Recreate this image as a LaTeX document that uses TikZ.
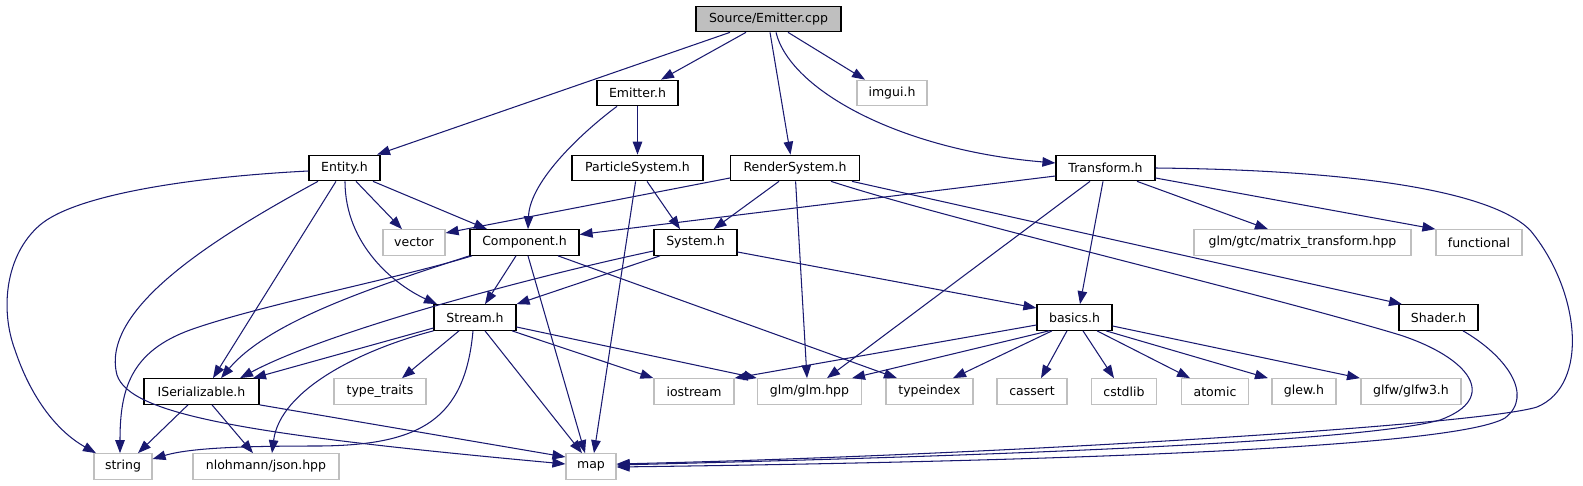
\documentclass[tikz,border=0pt]{standalone}
\usepackage{fontspec}
\setmainfont{DejaVu Sans}
\usetikzlibrary{arrows.meta}
\definecolor{edgeblue}{HTML}{191970}
\definecolor{greyseventyfive}{HTML}{BFBFBF}
\begin{document}
\begin{tikzpicture}[x=1pt,y=-1pt,
  box/.style={draw=black, line width=1.2pt, fill=white, minimum height=25.5pt, inner sep=0pt, font=\fontsize{12.5}{14}\selectfont},
  ext/.style={box, draw=greyseventyfive},
  srcbox/.style={box, fill=greyseventyfive},
  dep/.style={draw=edgeblue, line width=1.05pt, -{Triangle[length=13pt,width=9.5pt]}, fill=none},
]
\useasboundingbox (0,0) rectangle (1583,485);
% nodes
\node[srcbox, minimum width=145pt] (src) at (768.5,19) {Source/Emitter.cpp};
\node[box, minimum width=81pt] (emitterh) at (637.5,93) {Emitter.h};
\node[ext, minimum width=70pt] (imgui) at (892,93) {imgui.h};
\node[box, minimum width=71pt] (entity) at (344.5,168) {Entity.h};
\node[box, minimum width=131pt] (particle) at (637.5,168) {ParticleSystem.h};
\node[box, minimum width=129pt] (render) at (795,168) {RenderSystem.h};
\node[box, minimum width=99pt] (transform) at (1105.5,168) {Transform.h};
\node[ext, minimum width=62pt] (vector) at (414,242.5) {vector};
\node[box, minimum width=109pt] (component) at (524.5,242.5) {Component.h};
\node[box, minimum width=83pt] (system) at (695.5,242.5) {System.h};
\node[ext, minimum width=217pt] (gtc) at (1302.5,242.5) {glm/gtc/matrix\_transform.hpp};
\node[ext, minimum width=86pt] (functional) at (1479,242.5) {functional};
\node[box, minimum width=82pt] (stream) at (475,317.5) {Stream.h};
\node[box, minimum width=75pt] (basics) at (1074.5,317.5) {basics.h};
\node[box, minimum width=79pt] (shader) at (1438.5,317.5) {Shader.h};
\node[box, minimum width=115pt] (iserial) at (201.5,391.5) {ISerializable.h};
\node[ext, minimum width=92pt] (typetraits) at (380,391.5) {type\_traits};
\node[ext, minimum width=80pt] (iostream) at (694,391.5) {iostream};
\node[ext, minimum width=104pt] (glm) at (809.5,391.5) {glm/glm.hpp};
\node[ext, minimum width=87pt] (typeindex) at (929.5,391.5) {typeindex};
\node[ext, minimum width=70pt] (cassert) at (1032,391.5) {cassert};
\node[ext, minimum width=65pt] (cstdlib) at (1124,391.5) {cstdlib};
\node[ext, minimum width=67pt] (atomic) at (1215,391.5) {atomic};
\node[ext, minimum width=64pt] (glew) at (1304,391.5) {glew.h};
\node[ext, minimum width=100pt] (glfw) at (1411,391.5) {glfw/glfw3.h};
\node[ext, minimum width=58pt] (string) at (123,466.5) {string};
\node[ext, minimum width=146pt] (json) at (266,466.5) {nlohmann/json.hpp};
\node[ext, minimum width=50pt] (map) at (591,466.5) {map};
% edges from Source/Emitter.cpp
\draw[dep] (src.south -| 730,0) -- (entity.north -| 377,0);
\draw[dep] (src.south -| 746,0) -- (emitterh.north -| 661,0);
\draw[dep] (src.south -| 770,0) -- (render.north -| 790.5,0);
\draw[dep] (src.south -| 788,0) -- (imgui.north -| 865,0);
\draw[dep] (src.south -| 776,0) .. controls (790,90) and (900,150) .. (transform.west |- 0,163);
% Emitter.h
\draw[dep] (emitterh.south -| 617,0) .. controls (585,130) and (530,180) .. (component.north -| 528,0);
\draw[dep] (emitterh) -- (particle);
% Entity.h
\draw[dep] (entity.west |- 0,171) .. controls (190,177) and (75,195) .. (40,225) .. controls (5,255) and (0,310) .. (15,350) .. controls (30,395) and (55,430) .. (string.north -| 96,0);
\draw[dep] (entity.south -| 318,0) .. controls (210,240) and (100,310) .. (117,375) .. controls (130,415) and (250,435) .. (map.west |- 0,464);
\draw[dep] (entity.south -| 356,0) -- (vector.north -| 402,0);
\draw[dep] (entity.south -| 373,0) -- (component.north -| 487,0);
\draw[dep] (entity.south -| 336,0) -- (iserial.north -| 213,0);
\draw[dep] (entity.south -| 345,0) .. controls (345,245) and (395,285) .. (stream.north -| 437,0);
% ParticleSystem.h
\draw[dep] (particle.south -| 647,0) -- (system.north -| 680,0);
\draw[dep] (particle.south -| 635.6,0) -- (map.north -| 594,0);
% RenderSystem.h
\draw[dep] (render.west |- 0,178) -- (vector.east |- 0,233);
\draw[dep] (render.south -| 779,0) -- (system.north -| 713.5,0);
\draw[dep] (render.south -| 795.6,0) -- (glm.north -| 807,0);
\draw[dep] (render.south -| 852,0) -- (shader.north -| 1402,0);
\draw[dep] (render.south -| 831,0) .. controls (950,220) and (1250,290) .. (1400,335) .. controls (1470,358) and (1500,398) .. (1440,420) .. controls (1350,445) and (900,458) .. (map.east |- 0,465);
% Transform.h
\draw[dep] (transform.west |- 0,176) -- (component.east |- 0,234.5);
\draw[dep] (transform.south -| 1090,0) -- (glm.north -| 827,0);
\draw[dep] (transform.south -| 1103,0) -- (basics.north -| 1080,0);
\draw[dep] (transform.south -| 1137,0) -- (gtc.north -| 1268,0);
\draw[dep] (transform.east |- 0,178) -- (functional.north west);
\draw[dep] (transform.east |- 0,168) .. controls (1350,170) and (1490,190) .. (1530,230) .. controls (1580,290) and (1590,385) .. (1537,407) .. controls (1480,425) and (1000,455) .. (map.east |- 0,464);
% Component.h
\draw[dep] (component.south -| 472,0) .. controls (400,278) and (260,305) .. (190,330) .. controls (130,352) and (120,390) .. (string.north -| 120,0);
\draw[dep] (component.south west) .. controls (380,285) and (270,320) .. (iserial.north -| 221,0);
\draw[dep] (component.south -| 516,0) -- (stream.north -| 485,0);
\draw[dep] (component.south -| 528,0) -- (map.north -| 585,0);
\draw[dep] (component.south -| 558,0) -- (typeindex.north -| 897,0);
% System.h
\draw[dep] (system.west |- 0,251) .. controls (540,275) and (330,330) .. (iserial.north -| 240,0);
\draw[dep] (system.south -| 660,0) -- (stream.north east);
\draw[dep] (system.east |- 0,252) -- (basics.west |- 0,308);
% Stream.h
\draw[dep] (stream.west |- 0,328) -- (iserial.north -| 253,0);
\draw[dep] (stream.south -| 459,0) -- (typetraits.north -| 402,0);
\draw[dep] (stream.south west) .. controls (360,350) and (280,390) .. (json.north -| 272,0);
\draw[dep] (stream.south -| 473,0) .. controls (465,420) and (420,445) .. (320,446) .. controls (240,446) and (190,448) .. (string.east |- 0,459);
\draw[dep] (stream.south -| 485,0) -- (map.north -| 582,0);
\draw[dep] (stream.south -| 512,0) -- (iostream.north west);
\draw[dep] (stream.east |- 0,327) -- (glm.north west);
% ISerializable.h
\draw[dep] (iserial.south -| 188,0) -- (string.north -| 138,0);
\draw[dep] (iserial.south -| 212,0) -- (json.north -| 253,0);
\draw[dep] (iserial.south east) -- (map.west |- 0,457);
% basics.h
\draw[dep] (basics.west |- 0,325) -- (iostream.north east);
\draw[dep] (basics.south -| 1049,0) -- (glm.north -| 852,0);
\draw[dep] (basics.south -| 1052,0) -- (typeindex.north -| 953,0);
\draw[dep] (basics.south -| 1067,0) -- (cassert.north -| 1041,0);
\draw[dep] (basics.south -| 1083,0) -- (cstdlib.north -| 1114,0);
\draw[dep] (basics.south -| 1097,0) -- (atomic.north -| 1190,0);
\draw[dep] (basics.south -| 1106,0) -- (glew.north -| 1268,0);
\draw[dep] (basics.east |- 0,326) -- (glfw.north -| 1360,0);
% Shader.h
\draw[dep] (shader.south -| 1463,0) .. controls (1505,355) and (1535,395) .. (1505,418) .. controls (1450,450) and (1000,462) .. (map.east |- 0,467);
\end{tikzpicture}
\end{document}
